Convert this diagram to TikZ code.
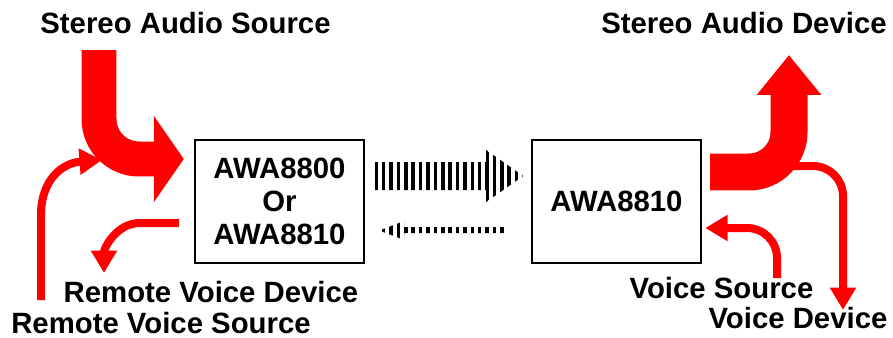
\documentclass[tikz,border=0pt]{standalone}
\usepackage{fontspec}
\setmainfont{Liberation Sans}
\usepackage{tikz}
\usetikzlibrary{arrows.meta, calc, patterns.meta}
\definecolor{rojo}{HTML}{FF0000}
\tikzset{
  chip/.style={rectangle, draw=black, line width=1.4pt, minimum width=3.38cm,
    minimum height=2.46cm, inner sep=0pt, align=center,
    font=\bfseries\fontsize{16.7}{19}\selectfont},
  rotulo/.style={anchor=base, inner sep=0pt, text depth=0pt,
    font=\bfseries\fontsize{16.7}{19}\selectfont},
  gorda/.style={rojo, line width=#1, rounded corners=0.8cm},
  fina/.style={-{Triangle[length=0.45cm, width=0.5cm]}, rojo, line width=0.16cm},
  rayas/.style={pattern={Lines[angle=90, distance=4.2pt, line width=2pt]},
    pattern color=black}
}
\begin{document}
\begin{tikzpicture}[x=0.02cm, y=-0.02cm]
  \useasboundingbox (0,0) rectangle (893,338);

  % --- Cajas ---
  \node[chip] (awa1) at (279.5,201.5) {AWA8800\\Or\\AWA8810};
  \node[chip] (awa2) at (616.5,201.5) {AWA8810};

  % --- Rotulos ---
  \node[rotulo] (src) at (185.5,33)  {Stereo Audio Source};
  \node[rotulo] (dev) at (744,33)    {Stereo Audio Device};
  \node[rotulo] (rvd) at (211,302)   {Remote Voice Device};
  \node[rotulo] (rvs) at (161,333.5) {Remote Voice Source};
  \node[rotulo] (vs)  at (721.5,298) {Voice Source};
  \node[rotulo] (vd)  at (798,328)   {Voice Device};

  % --- Extremos libres ---
  \coordinate (estIni) at (99,50);
  \coordinate (estFin) at (789,55);
  \coordinate (rvsIni) at (41,300);
  \coordinate (rvsFin) at (102,160);
  \coordinate (rvdFin) at (104,273);
  \coordinate (vsIni)  at (777,278);
  \coordinate (vdIni)  at (786,166);
  \coordinate (vdFin)  at (843,310);

  % --- Flechas finas ---
  \draw[fina] (rvsIni) -- (41,215) .. controls (41,180) and (62,163) .. (rvsFin);
  \draw[fina] ($(awa1.west)+(-15,21.5)$) -- (140,223) to[out=180,in=90] (rvdFin);
  \draw[fina] (vsIni) -- (777,258) to[out=90,in=0] (747,228)
    -- ($(awa2.east)+(3,26.5)$);
  \draw[fina, rounded corners=0.6cm] (vdIni) -| (vdFin);

  % --- Flechas gordas ---
  \draw[gorda=0.7cm, -{Triangle[length=0.6cm, width=1.7cm]}]
    (estIni) |- ($(awa1.west)+(-10,-42.5)$);
  \draw[gorda=0.74cm, -{Triangle[length=0.8cm, width=1.24cm]}]
    ($(awa2.east)+(8,-29.5)$) -| (estFin);

  % --- Flechas rayadas ---
  \begin{scope}[shift={(awa1.east)}]
    \path[rayas] (10,-39.5) -- (121,-39.5) -- (121,-51.5) -- (158,-25.5)
      -- (121,0.5) -- (121,-11.5) -- (10,-11.5) -- cycle;
    \path[rayas] (141,25.5) -- (39,25.5) -- (39,19.5) -- (14,29)
      -- (39,38.5) -- (39,31.5) -- (141,31.5) -- cycle;
  \end{scope}

\end{tikzpicture}
\end{document}
